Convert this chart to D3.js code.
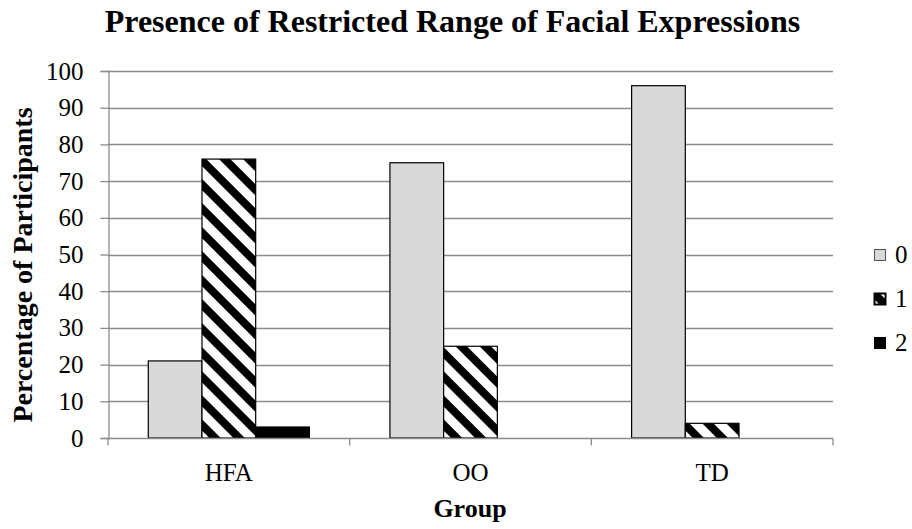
<!DOCTYPE html>
<html>
<head>
<meta charset="utf-8">
<script src="https://cdn.jsdelivr.net/npm/d3@7"></script>
<style>
	body { margin:0; background:#fff; }
	text { font-family:"Liberation Serif", "Times New Roman", serif; fill:#000; }
</style>
</head>
<body>
<div id="chart"></div>
<script>
var	groups	= ["HFA", "OO", "TD"],
	series	= ["0", "1", "2"],
	vals0	= [21, 75, 96],
	vals1	= [76, 25, 4],
	vals2	= [3, 0, 0],
	yTicks	= [0, 10, 20, 30, 40, 50, 60, 70, 80, 90, 100];

var	W = 912, H = 529,
	plot = {left: 108, right: 833, top: 71, bottom: 438},
	serif = "'Liberation Serif', 'Times New Roman', serif";

var	rows = groups.map(function(g, i) {
		return {group: g, values: [vals0[i], vals1[i], vals2[i]]};
	});

var	svg = d3.select("#chart").append("svg").attr("width", W).attr("height", H);

// stripes for series 1
var	defs = svg.append("defs");
var	pat = defs.append("pattern").attr("id", "stripe")
		.attr("patternUnits", "userSpaceOnUse")
		.attr("width", 17).attr("height", 17)
		.attr("patternTransform", "rotate(-45)");
pat.append("rect").attr("width", 17).attr("height", 17).attr("fill", "#fff");
pat.append("rect").attr("width", 8).attr("height", 17).attr("fill", "#000");

var	fills = ["#d9d9d9", "url(#stripe)", "#000"];

var	x0 = d3.scaleBand().domain(groups).range([plot.left, plot.right]).padding(0),
	bw = x0.bandwidth(),
	barW = bw / 4.5,
	x1 = d3.scaleBand().domain(series).range([barW * 0.75, bw - barW * 0.75]).padding(0),
	y = d3.scaleLinear().domain([0, 100]).range([plot.bottom, plot.top]);

// gridlines
svg.append("g").attr("class", "grid")
	.selectAll("line").data(yTicks.slice(1)).enter().append("line")
	.attr("x1", plot.left).attr("x2", plot.right)
	.attr("y1", function(d) { return Math.round(y(d)) + 0.5; })
	.attr("y2", function(d) { return Math.round(y(d)) + 0.5; })
	.attr("stroke", "#8c8c8c").attr("stroke-width", 1.3);

// bars
var	g = svg.selectAll("g.grp").data(rows).enter().append("g").attr("class", "grp")
		.attr("transform", function(d) { return "translate(" + x0(d.group) + ",0)"; });
g.selectAll("rect").data(function(d) { return d.values.map(function(v, i) { return {s: series[i], v: v, i: i}; }); })
	.enter().filter(function(d) { return d.v > 0; }).append("rect")
	.attr("x", function(d) { return x1(d.s); })
	.attr("y", function(d) { return y(d.v); })
	.attr("width", x1.bandwidth())
	.attr("height", function(d) { return y(0) - y(d.v); })
	.attr("fill", function(d) { return fills[d.i]; })
	.attr("stroke", "#000").attr("stroke-width", 1.2);

// y axis
var	yAxis = svg.append("g").attr("transform", "translate(" + (plot.left + 0.5) + ",0)")
	.call(d3.axisLeft(y).tickValues(yTicks).tickSize(8).tickPadding(17));
yAxis.attr("font-family", null).attr("font-size", null);
yAxis.select(".domain").attr("stroke", "#8c8c8c").attr("stroke-width", 1.3);
yAxis.selectAll(".tick line").attr("stroke", "#8c8c8c").attr("stroke-width", 1.3);
yAxis.selectAll(".tick text").style("font-size", "25px").style("font-family", serif);

// x axis
var	xAxis = svg.append("g").attr("transform", "translate(0," + (plot.bottom + 0.5) + ")");
xAxis.append("line").attr("x1", plot.left).attr("x2", plot.right)
	.attr("stroke", "#8c8c8c").attr("stroke-width", 1.3);
xAxis.selectAll("line.tk").data(groups.concat([null])).enter().append("line").attr("class", "tk")
	.attr("x1", function(d, i) { return plot.left + i * bw; })
	.attr("x2", function(d, i) { return plot.left + i * bw; })
	.attr("y1", 0).attr("y2", 7)
	.attr("stroke", "#8c8c8c").attr("stroke-width", 1.3);
xAxis.selectAll("text").data(groups).enter().append("text")
	.attr("x", function(d) { return x0(d) + bw / 2; })
	.attr("y", 42)
	.attr("text-anchor", "middle")
	.style("font-size", "25px").style("font-family", serif)
	.text(function(d) { return d; });

// titles
svg.append("text").attr("x", 452.5).attr("y", 32).attr("text-anchor", "middle")
	.style("font-size", "32px").style("font-weight", "bold").style("font-family", serif)
	.text("Presence of Restricted Range of Facial Expressions");
svg.append("text").attr("x", 470).attr("y", 517).attr("text-anchor", "middle")
	.style("font-size", "26px").style("font-weight", "bold").style("font-family", serif)
	.text("Group");
svg.append("text").attr("transform", "translate(32,265) rotate(-90)")
	.attr("text-anchor", "middle")
	.style("font-size", "28px").style("font-weight", "bold").style("font-family", serif)
	.text("Percentage of Participants");

// legend
var	leg = svg.selectAll("g.leg").data(series).enter().append("g").attr("class", "leg")
		.attr("transform", function(d, i) { return "translate(874," + (255 + i * 44) + ")"; });
leg.append("rect").attr("x", 0.5).attr("y", -5.5).attr("width", 11).attr("height", 11)
	.attr("fill", function(d, i) { return fills[i]; })
	.attr("stroke", function(d, i) { return i == 0 ? "#555" : "#000"; })
	.attr("stroke-width", function(d, i) { return i == 1 ? 2 : 1; });
leg.append("text").attr("x", 21).attr("y", 8)
	.style("font-size", "25px").style("font-family", serif)
	.text(function(d) { return d; });
</script>
</body>
</html>
